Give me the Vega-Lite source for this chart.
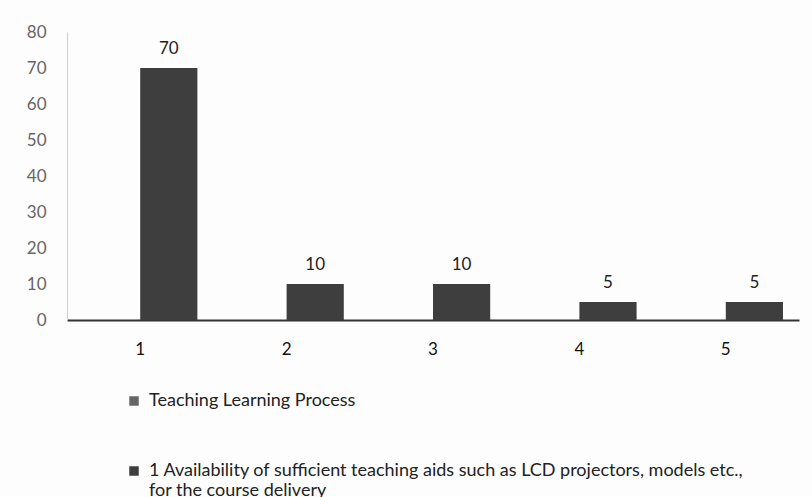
{
  "$schema": "https://vega.github.io/schema/vega-lite/v6.json",
  "width": 732,
  "height": 288,
  "autosize": {"type": "none"},
  "padding": {"left": 67, "top": 32, "right": 13, "bottom": 177},
  "background": "#fdfdfd",
  "config": {
    "view": {"stroke": null},
    "font": "Lato",
    "axis": {"labelFont": "Lato", "titleFont": "Lato"},
    "legend": {"labelFont": "Lato"}
  },
  "data": {
    "values": [
      {"category": "1", "series": "1 Availability of sufficient teaching aids such as LCD projectors, models etc., for the course delivery", "value": 70},
      {"category": "2", "series": "1 Availability of sufficient teaching aids such as LCD projectors, models etc., for the course delivery", "value": 10},
      {"category": "3", "series": "1 Availability of sufficient teaching aids such as LCD projectors, models etc., for the course delivery", "value": 10},
      {"category": "4", "series": "1 Availability of sufficient teaching aids such as LCD projectors, models etc., for the course delivery", "value": 5},
      {"category": "5", "series": "1 Availability of sufficient teaching aids such as LCD projectors, models etc., for the course delivery", "value": 5}
    ]
  },
  "encoding": {
    "x": {
      "field": "category",
      "type": "nominal",
      "scale": {"paddingInner": 0, "paddingOuter": 0},
      "axis": {
        "title": null,
        "labelAngle": 0,
        "labelFontSize": 17,
        "labelColor": "#111",
        "labelPadding": 21,
        "ticks": false,
        "domainColor": "#333",
        "domainWidth": 2
      }
    },
    "xOffset": {
      "field": "series",
      "type": "nominal",
      "scale": {
        "domain": ["Teaching Learning Process", "1 Availability of sufficient teaching aids such as LCD projectors, models etc., for the course delivery"],
        "paddingInner": 0,
        "paddingOuter": 0.28
      }
    },
    "y": {
      "field": "value",
      "type": "quantitative",
      "scale": {"domain": [0, 80]},
      "axis": {
        "title": null,
        "values": [0, 10, 20, 30, 40, 50, 60, 70, 80],
        "grid": false,
        "ticks": false,
        "labelFontSize": 17,
        "labelColor": "#666",
        "labelPadding": 21,
        "domainColor": "#cfcfcf",
        "domainWidth": 1
      }
    }
  },
  "layer": [
    {
      "mark": {"type": "bar"},
      "encoding": {
        "color": {
          "field": "series",
          "type": "nominal",
          "scale": {
            "domain": ["Teaching Learning Process", "1 Availability of sufficient teaching aids such as LCD projectors, models etc., for the course delivery"],
            "range": ["#666666", "#3e3e3e"]
          },
          "legend": {
            "title": null,
            "orient": "none",
            "legendX": 58,
            "legendY": 360,
            "direction": "vertical",
            "symbolType": "square",
            "symbolSize": 90,
            "labelFontSize": 18,
            "labelOffset": 6,
            "labelColor": "#222",
            "labelLimit": 800,
            "rowPadding": 52,
            "labelExpr": "indexof(datum.label, 'etc.,') > 0 ? ['1 Availability of sufficient teaching aids such as LCD projectors, models etc.,', '  for the course delivery'] : datum.label"
          }
        }
      }
    },
    {
      "mark": {"type": "text", "baseline": "bottom", "dy": -10, "fontSize": 17, "color": "#222"},
      "encoding": {
        "text": {"field": "value", "type": "quantitative"}
      }
    }
  ]
}
